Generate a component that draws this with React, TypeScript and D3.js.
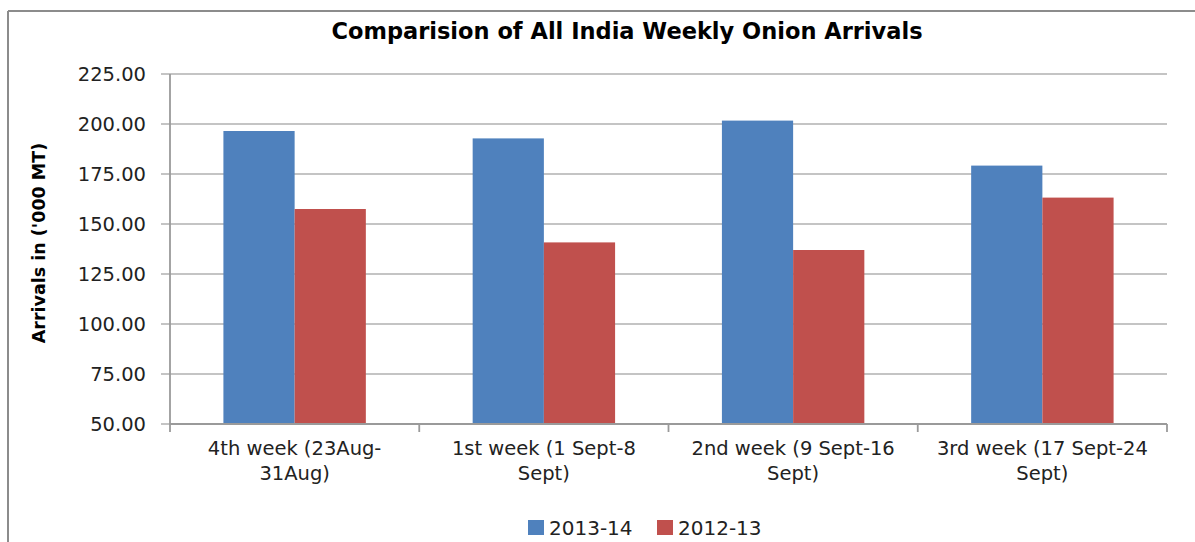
import React from 'react';
import * as d3 from 'd3';

// values
const weeks = ['4th week', '1st week', '2nd week', '3rd week'];
const weekLabels = [
  ['4th week (23Aug-', '31Aug)'],
  ['1st week (1 Sept-8', 'Sept)'],
  ['2nd week (9 Sept-16', 'Sept)'],
  ['3rd week (17 Sept-24', 'Sept)'],
];
const seriesNames = ['2013-14', '2012-13'];
const arrivals1314 = [196.5, 192.8, 201.7, 179.2];
const arrivals1213 = [157.5, 140.8, 137.0, 163.2];
const yTicks = [50, 75, 100, 125, 150, 175, 200, 225];

const colors = ['#4F81BD', '#C0504D'];
const font = '"DejaVu Sans", sans-serif';

const W = 1195;
const H = 542;
const margin = { top: 74, right: 28, bottom: 118, left: 170 };

export default function App() {
  const innerW = W - margin.left - margin.right;
  const innerH = H - margin.top - margin.bottom;

  const x = d3.scaleBand<string>().domain(weeks).range([0, innerW]).paddingInner(0).paddingOuter(0);
  const y = d3.scaleLinear().domain([50, 225]).range([innerH, 0]);
  // Excel style gap width 150%
  const barW = x.bandwidth() / 3.5;
  const inner = d3.scaleBand<string>().domain(seriesNames).range([0, barW * 2]);
  const series = [arrivals1314, arrivals1213];

  return (
    <svg width={W} height={H} style={{ position: 'absolute', left: 0, top: 0, background: '#fff' }}>
      <line x1={8} x2={W} y1={11} y2={11} stroke="#8c8c8c" strokeWidth={2} />
      <line x1={8} x2={8} y1={11} y2={H} stroke="#8c8c8c" strokeWidth={2} />

      <text x={627} y={39} textAnchor="middle" fontFamily={font} fontWeight="bold" fontSize={22.5} fill="#000">
        Comparision of All India Weekly Onion Arrivals
      </text>

      <text
        transform={`translate(45,${margin.top + innerH / 2 - 6}) rotate(-90)`}
        textAnchor="middle"
        fontFamily={font}
        fontWeight="bold"
        fontSize={17.5}
        fill="#000"
      >
        Arrivals in ('000 MT)
      </text>

      <g transform={`translate(${margin.left},${margin.top})`}>
        {yTicks.map(t => (
          <g key={t}>
            <line x1={-9} x2={innerW} y1={y(t)} y2={y(t)} stroke="#c4c4c4" strokeWidth={1.8} />
            <text x={-24} y={y(t)} dy="0.36em" textAnchor="end" fontFamily={font} fontSize={19.5} fill="#222">
              {t.toFixed(2)}
            </text>
          </g>
        ))}

        {weeks.map((w, i) =>
          series.map((vals, s) => (
            <rect
              key={w + s}
              x={(x(w) as number) + (x.bandwidth() - barW * 2) / 2 + (inner(seriesNames[s]) as number)}
              y={y(vals[i])}
              width={inner.bandwidth()}
              height={innerH - y(vals[i])}
              fill={colors[s]}
            />
          ))
        )}

        <line x1={0} x2={0} y1={0} y2={innerH + 8} stroke="#9a9a9a" strokeWidth={1.8} />
        <line x1={0} x2={innerW} y1={innerH} y2={innerH} stroke="#9a9a9a" strokeWidth={1.8} />
        {weeks.map(w => (
          <line
            key={'t' + w}
            x1={(x(w) as number) + x.bandwidth()}
            x2={(x(w) as number) + x.bandwidth()}
            y1={innerH}
            y2={innerH + 8}
            stroke="#9a9a9a"
            strokeWidth={1.8}
          />
        ))}

        {weeks.map((w, i) => (
          <text
            key={'l' + w}
            x={(x(w) as number) + x.bandwidth() / 2}
            y={innerH + 31}
            textAnchor="middle"
            fontFamily={font}
            fontSize={19.5}
            fill="#222"
          >
            {weekLabels[i].map((line, j) => (
              <tspan key={j} x={(x(w) as number) + x.bandwidth() / 2} dy={j === 0 ? 0 : 25}>
                {line}
              </tspan>
            ))}
          </text>
        ))}
      </g>

      <g transform="translate(528,520)">
        {seriesNames.map((n, i) => (
          <g key={n} transform={`translate(${i * 129},0)`}>
            <rect x={0} y={0} width={16} height={15} fill={colors[i]} />
            <text x={21} y={8} dy="0.36em" fontFamily={font} fontSize={20} fill="#222">
              {n}
            </text>
          </g>
        ))}
      </g>
    </svg>
  );
}
